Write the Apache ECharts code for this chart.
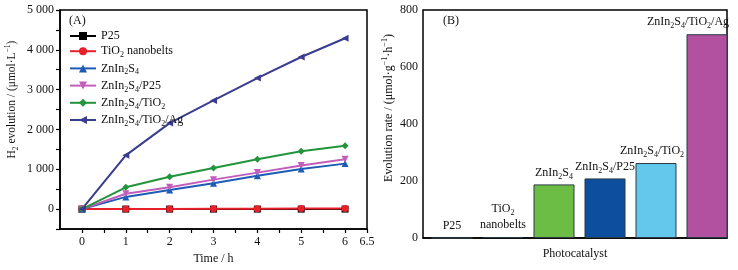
<!DOCTYPE html>
<html>
<head>
<meta charset="utf-8">
<script src="https://cdn.jsdelivr.net/npm/echarts@6/dist/echarts.min.js"></script>
<style>
  html, body { margin: 0; padding: 0; background: #fff; }
  #main { width: 738px; height: 270px; }
</style>
</head>
<body>
<div id="main"></div>
<script>
// (A) H2 evolution vs time
var times = [0, 1, 2, 3, 4, 5, 6];
var p25 = [0, 0, 0, 0, 0, 0, 0];
var tio2 = [0, 2, 4, 6, 9, 12, 15];
var znin = [0, 306, 482, 651, 836, 1005, 1142];
var zninP25 = [0, 386, 547, 740, 916, 1094, 1253];
var zninTiO2 = [0, 547, 812, 1030, 1253, 1455, 1590];
var zninTiO2Ag = [0, 1350, 2160, 2730, 3290, 3820, 4290];

// (B) evolution rate
var catalysts = ['P25', 'TiO2 nanobelts', 'ZnIn2S4', 'ZnIn2S4/P25', 'ZnIn2S4/TiO2', 'ZnIn2S4/TiO2/Ag'];
var rates = [0, 3, 188, 209, 263, 715];
var barColors = ['#222222', '#222222', '#6cbd45', '#0d4f9e', '#63c8eb', '#b2519f'];

var seriesNames = ['P25', 'TiO2 nanobelts', 'ZnIn2S4', 'ZnIn2S4/P25', 'ZnIn2S4/TiO2', 'ZnIn2S4/TiO2/Ag'];
var lineColors = ['#000000', '#e8202a', '#1e5bb5', '#c35dbb', '#23943c', '#3a3c8f'];
var lineData = [p25, tio2, znin, zninP25, zninTiO2, zninTiO2Ag];
var symbols = ['rect', 'circle', 'triangle', 'triangle', 'diamond', 'triangle'];
var symbolRot = [0, 0, 0, 180, 0, 90];

var FONT = 'Liberation Serif';

// chemistry names with subscripts as rich text
var richName = {
  'P25': 'P25',
  'TiO2 nanobelts': 'TiO{s|2} nanobelts',
  'ZnIn2S4': 'ZnIn{s|2}S{s|4}',
  'ZnIn2S4/P25': 'ZnIn{s|2}S{s|4}/P25',
  'ZnIn2S4/TiO2': 'ZnIn{s|2}S{s|4}/TiO{s|2}',
  'ZnIn2S4/TiO2/Ag': 'ZnIn{s|2}S{s|4}/TiO{s|2}/Ag'
};
var barName = Object.assign({}, richName, {'TiO2 nanobelts': 'TiO{s|2}\nnanobelts'});
var labelShift = [0, 0, 0, 0, -4, -19];

function rich(size) {
  return {
    s: { fontFamily: FONT, fontSize: size - 4, verticalAlign: 'bottom', lineHeight: size + 4, color: '#111' },
    p: { fontFamily: FONT, fontSize: size - 4, verticalAlign: 'top', lineHeight: size + 4, color: '#111' }
  };
}

function thous(v) {
  return String(v).replace(/\B(?=(\d{3})+(?!\d))/g, ' ');
}

var axisLine = { lineStyle: { color: '#000', width: 1.5 } };
var axisTick = { inside: false, length: 4, lineStyle: { color: '#000', width: 1.2 } };
var labelStyle = { fontFamily: FONT, fontSize: 12, color: '#111' };

var series = seriesNames.map(function (n, i) {
  return {
    name: n,
    type: 'line',
    xAxisIndex: 0,
    yAxisIndex: 0,
    data: times.map(function (t, j) { return [t, lineData[i][j]]; }),
    symbol: symbols[i],
    symbolSize: 7,
    symbolRotate: symbolRot[i],
    lineStyle: { color: lineColors[i], width: 2 },
    itemStyle: { color: lineColors[i] },
    animation: false
  };
});

series.push({
  type: 'bar',
  xAxisIndex: 2,
  yAxisIndex: 2,
  barWidth: 41,
  data: rates.map(function (v, i) {
    return {
      value: v,
      itemStyle: { color: barColors[i], borderColor: '#2a3a44', borderWidth: 1 },
      label: { offset: [labelShift[i], 0] }
    };
  }),
  label: {
    show: true,
    position: 'top',
    distance: 4,
    align: 'center',
    fontFamily: FONT,
    fontSize: 12,
    lineHeight: 16,
    color: '#111',
    formatter: function (p) { return barName[catalysts[p.dataIndex]]; },
    rich: rich(12)
  },
  animation: false
});

var chart = echarts.init(document.getElementById('main'));
chart.setOption({
  backgroundColor: '#fff',
  animation: false,
  grid: [
    { left: 60, top: 10, width: 307, height: 228, show: true, borderColor: '#000', borderWidth: 1.5, backgroundColor: 'transparent' },
    { left: 423, top: 10, width: 304, height: 228, show: true, borderColor: '#000', borderWidth: 1.5, backgroundColor: 'transparent' },
    // bars sit slightly right of the frame's evenly split bands
    { left: 426.5, top: 10, width: 306, height: 228, show: false }
  ],
  legend: {
    data: seriesNames,
    orient: 'vertical',
    left: 64,
    top: 25,
    itemWidth: 26,
    itemHeight: 10,
    itemGap: 3.2,
    textStyle: { fontFamily: FONT, fontSize: 12, color: '#111', rich: rich(12) },
    formatter: function (n) { return richName[n]; }
  },
  graphic: [
    { type: 'text', left: 69, top: 15, style: { text: '(A)', font: '12px "Liberation Serif"', fill: '#111' } },
    { type: 'text', left: 443, top: 15, style: { text: '(B)', font: '12px "Liberation Serif"', fill: '#111' } }
  ],
  xAxis: [
    {
      type: 'value', gridIndex: 0, min: -0.5, max: 6.5, interval: 0.5,
      name: 'Time / h', nameLocation: 'middle', nameGap: 24,
      nameTextStyle: labelStyle,
      axisLine: Object.assign({ onZero: false }, axisLine),
      axisTick: axisTick,
      splitLine: { show: false },
      axisLabel: Object.assign({
        margin: 7,
        showMinLabel: false,
        formatter: function (v) { return (v >= 0 && (v % 1 === 0 || v === 6.5)) ? String(v) : ''; }
      }, labelStyle)
    },
    {
      type: 'category', gridIndex: 1, data: catalysts,
      name: 'Photocatalyst', nameLocation: 'middle', nameGap: 10,
      nameTextStyle: labelStyle,
      axisLine: axisLine,
      axisTick: { show: false },
      axisLabel: { show: false }
    },
    {
      type: 'category', gridIndex: 2, data: catalysts,
      axisLine: { show: false }, axisTick: { show: false }, axisLabel: { show: false }
    }
  ],
  yAxis: [
    {
      type: 'value', gridIndex: 0, min: -500, max: 5000, interval: 500,
      name: 'H{s|2} evolution / (μmol·L{p|−1})', nameLocation: 'middle', nameGap: 40, nameRotate: 90,
      nameTextStyle: { fontFamily: FONT, fontSize: 11.5, color: '#111', padding: [0, 0, 0, 40], rich: rich(11.5) },
      axisLine: Object.assign({ onZero: false }, axisLine),
      axisTick: axisTick,
      splitLine: { show: false },
      axisLabel: Object.assign({
        margin: 6,
        formatter: function (v) { return (v >= 0 && v % 1000 === 0) ? thous(v) : ''; }
      }, labelStyle)
    },
    {
      type: 'value', gridIndex: 1, min: 0, max: 800, interval: 100,
      name: 'Evolution rate / (μmol·g{p|−1}·h{p|−1})', nameLocation: 'middle', nameGap: 26, nameRotate: 90,
      nameTextStyle: { fontFamily: FONT, fontSize: 12, color: '#111', padding: [0, 0, 0, 32], rich: rich(12) },
      axisLine: axisLine,
      axisTick: axisTick,
      splitLine: { show: false },
      axisLabel: Object.assign({
        margin: 5,
        formatter: function (v) { return v % 200 === 0 ? String(v) : ''; }
      }, labelStyle)
    },
    {
      type: 'value', gridIndex: 2, min: 0, max: 800,
      axisLine: { show: false }, axisTick: { show: false }, axisLabel: { show: false }, splitLine: { show: false }
    }
  ],
  series: series
});
</script>
</body>
</html>
